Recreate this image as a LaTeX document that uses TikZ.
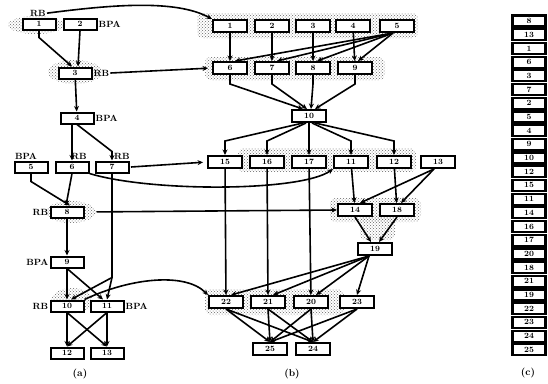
\documentclass[tikz,border=0pt]{standalone}
\usetikzlibrary{arrows.meta,patterns}
\begin{document}
\begin{tikzpicture}[x=1pt,y=-1pt,
	gbox/.style={draw,line width=2pt,fill=white,minimum width=33pt,minimum height=11pt,inner sep=0pt,font=\fontsize{8}{9}\selectfont\bfseries},
	bbox/.style={gbox,minimum width=34pt,minimum height=12pt},
	lbox/.style={gbox,line width=2.2pt,minimum width=33pt,minimum height=11pt},
	tag/.style={font=\fontsize{9}{10}\selectfont\bfseries,inner sep=1pt},
	arr/.style={line width=1.6pt,-{Stealth[length=5.5pt,width=5pt]}},
	halo/.style={pattern=crosshatch dots,pattern color=black!60}]
			\useasboundingbox (0,0) rectangle (548,383);
			\fill[halo] (36,25) ellipse (28 and 9);
			\fill[halo] (75,72) ellipse (27 and 12);
			\fill[halo] (71,212) ellipse (25 and 11);
			\fill[halo] (72,301) ellipse (21 and 13);
			\fill[halo,rounded corners=6pt] (197,13) rectangle (418,38);
			\fill[halo,rounded corners=6pt] (205,57) rectangle (385,80);
			\fill[halo,rounded corners=6pt] (238,148) rectangle (416,172);
			\fill[halo,rounded corners=6pt] (330,198) rectangle (421,222);
			\fill[halo,rounded corners=6pt] (360,215) rectangle (395,240);
			\fill[halo,rounded corners=6pt] (205,289) rectangle (344,315);
			\node[gbox] (a1) at (39,24) {1};
			\node[gbox] (a2) at (80,24) {2};
			\node[gbox] (a3) at (75,73) {3};
			\node[gbox] (a4) at (77,118) {4};
			\node[gbox] (a5) at (31,167) {5};
			\node[gbox] (a6) at (72,167) {6};
			\node[gbox] (a7) at (112,167) {7};
			\node[gbox] (a8) at (67,212) {8};
			\node[gbox] (a9) at (67,262) {9};
			\node[gbox] (a10) at (67,306) {10};
			\node[gbox] (a11) at (107,306) {11};
			\node[gbox] (a12) at (67,353) {12};
			\node[gbox] (a13) at (107,353) {13};
			\node[tag,anchor=south] (rb1) at ([xshift=-1pt]a1.north) {RB};
			\node[tag,anchor=west] (bpa2) at (a2.east) {BPA};
			\node[tag,anchor=west] (rb3) at (a3.east) {RB};
			\node[tag,anchor=west] (bpa4) at (a4.east) {BPA};
			\node[tag,anchor=south] (bpa5) at ([xshift=-5pt]a5.north) {BPA};
			\node[tag,anchor=south] (rb6) at ([xshift=7pt]a6.north) {RB};
			\node[tag,anchor=south] (rb7) at ([xshift=10pt]a7.north) {RB};
			\node[tag,anchor=east] (rb8) at (a8.west) {RB};
			\node[tag,anchor=east] (bpa9) at (a9.west) {BPA};
			\node[tag,anchor=east] (rb10) at (a10.west) {RB};
			\node[tag,anchor=west] (bpa11) at (a11.east) {BPA};
			\coordinate (a7k) at ([yshift=-104pt]a7.south);
			\draw[arr] (a1.south) -- ++(0,7) -- ([xshift=-3pt]a3.north);
			\draw[arr] (a2.south) -- ([xshift=3pt]a3.north);
			\draw[arr] (a3) -- (a4);
			\draw[arr] (a4.south -| a6.north) -- (a6.north);
			\draw[arr] (a4.south) -- ([yshift=9pt]a7.north) -- (a7.north);
			\draw[arr] (a5.south) -- ++(0,8) -- ([xshift=3pt]a8.north);
			\draw[arr] (a6.south) -- ([xshift=-1pt]a8.north);
			\draw[arr] (a8) -- (a9);
			\draw[line width=1.6pt] (a7.south) -- (a7k);
			\draw[arr] (a7k) -- ([xshift=4pt]a10.north);
			\draw[arr] (a7k) -- (a11.north);
			\draw[arr] (a9) -- (a10);
			\draw[arr] (a9.south) -- ([xshift=-4pt]a11.north);
			\foreach \s in {10,11}
				\foreach \t in {12,13}
					\draw[arr] (a\s.south) -- (a\t.north);
			\node[bbox] (b1) at (230,26) {1};
			\node[bbox] (b2) at (272,26) {2};
			\node[bbox] (b3) at (313,26) {3};
			\node[bbox] (b4) at (353,26) {4};
			\node[bbox] (b5) at (397,26) {5};
			\node[bbox] (b6) at (230,68) {6};
			\node[bbox] (b7) at (272,68) {7};
			\node[bbox] (b8) at (313,68) {8};
			\node[bbox] (b9) at (355,68) {9};
			\node[bbox] (b10) at (309,116) {10};
			\node[bbox] (b15) at (225,162) {15};
			\node[bbox] (b16) at (267,162) {16};
			\node[bbox] (b17) at (309,162) {17};
			\node[bbox] (b11) at (351,162) {11};
			\node[bbox] (b12) at (394,162) {12};
			\node[bbox] (b13) at (438,162) {13};
			\node[bbox] (b14) at (355,210) {14};
			\node[bbox] (b18) at (397,210) {18};
			\node[bbox] (b19) at (375,249) {19};
			\node[bbox] (b22) at (226,302) {22};
			\node[bbox] (b21) at (268,302) {21};
			\node[bbox] (b20) at (311,302) {20};
			\node[bbox] (b23) at (357,302) {23};
			\node[bbox] (b25) at (270,349) {25};
			\node[bbox] (b24) at (313,349) {24};
			\foreach \s/\t in {1/6,2/7,3/8,4/9}
				\draw[arr] (b\s) -- (b\t);
			\foreach \t/\d in {6/5,7/5,8/4,9/3}
				\draw[arr] ([xshift=-4pt]b5.south) -- ([xshift=\d pt]b\t.north);
			\foreach \t/\d in {6/-6,7/-2,8/2,9/6}
				\draw[arr] (b\t.south) -- ++(0,9) -- ([xshift=\d pt]b10.north);
			\foreach \t/\d in {15/-6,16/-3,17/0,11/3,12/6}
				\draw[arr] ([xshift=\d pt]b10.south) -- ([yshift=14pt]b\t.north) -- (b\t.north);
			\draw[arr] (b11) -- (b14);
			\draw[arr] (b12) -- (b18);
			\draw[arr] ([xshift=-4pt]b13.south) -- ([xshift=5pt]b14.north);
			\draw[arr] ([xshift=-4pt]b13.south) -- ([xshift=4pt]b18.north);
			\draw[arr] (b14.south) -- ([xshift=-4pt]b19.north);
			\draw[arr] (b18.south) -- ([xshift=4pt]b19.north);
			\foreach \s/\t in {15/22,16/21,17/20}
				\draw[arr] (b\s) -- (b\t);
			\foreach \t in {22,21,20}
				\draw[arr] ([xshift=-6pt]b19.south) -- ([xshift=5pt]b\t.north);
			\draw[arr] ([xshift=-6pt]b19.south) -- (b23.north);
			\foreach \s in {22,21,20,23}
				\foreach \t in {25,24}
					\draw[arr] (b\s.south) -- (b\t.north);
			\draw[arr] (rb1.east) .. controls (110,5) and (175,-1) .. (b1.north west);
			\draw[arr,shorten >=4pt] (rb3.east) -- (b6.west);
			\draw[arr,shorten >=4pt] (rb7.east |- a7.east) -- (b15.west);
			\draw[arr] (a6.south east) .. controls (150,192) and (300,192) .. (b11.south west);
			\draw[arr,shorten <=12pt] (a8.east) -- (b14.west);
			\draw[arr] (a10.north east) .. controls (130,278) and (185,272) .. (b22.north west);
			\foreach \n [count=\i] in {8,13,1,6,3,7,2,5,4,9,10,12,15,11,14,16,17,20,18,21,19,22,23,24,25}
				\node[lbox] (c\i) at (529,{21+13.7*(\i-1)}) {\n};
			\node[font=\fontsize{10}{11}\selectfont\bfseries] (capa) at (80,374) {(a)};
			\node[font=\fontsize{10}{11}\selectfont\bfseries] (capb) at (292,374) {(b)};
			\node[font=\fontsize{10}{11}\selectfont\bfseries] (capc) at (528,373) {(c)};
		\end{tikzpicture}
\end{document}
